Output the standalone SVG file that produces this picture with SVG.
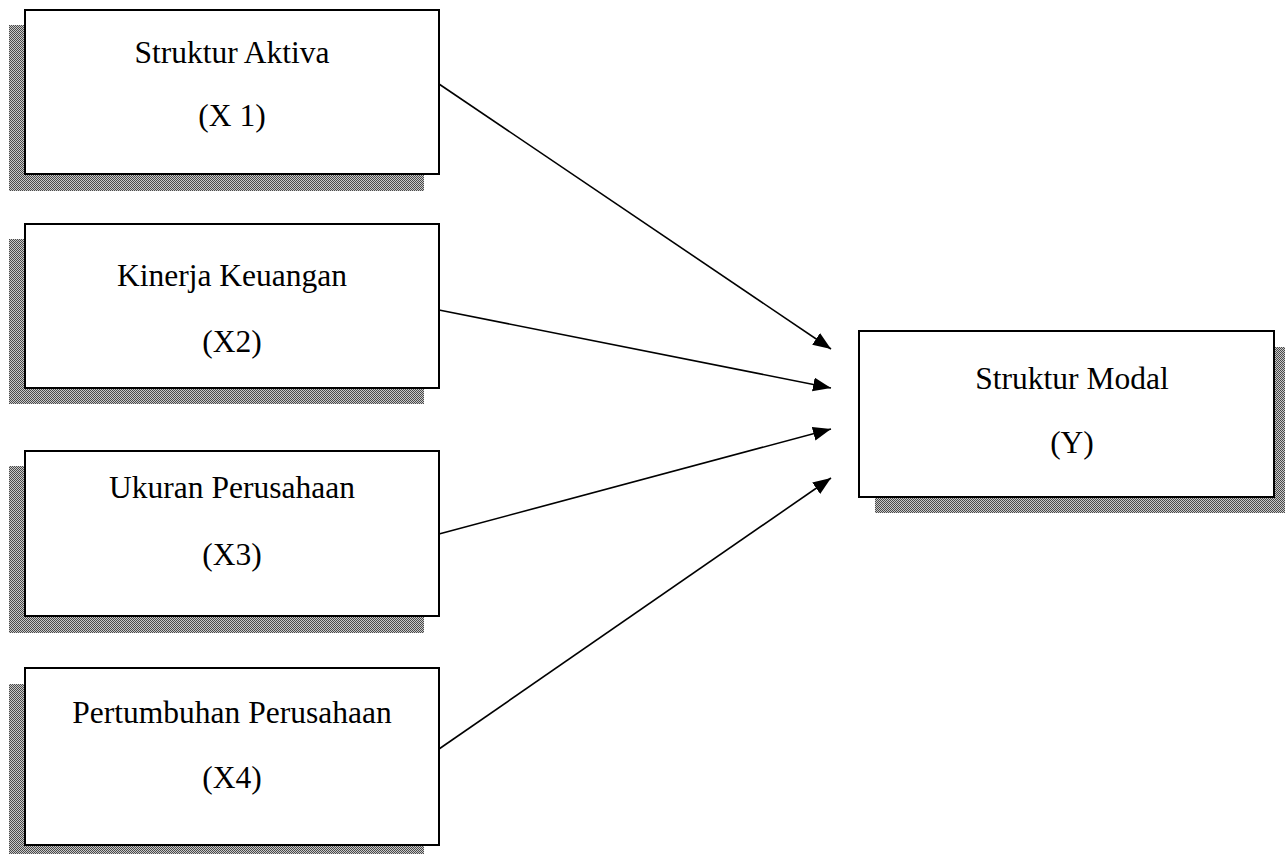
<svg xmlns="http://www.w3.org/2000/svg" width="1285" height="854" viewBox="0 0 1285 854">
<defs>
<pattern id="dots" x="0" y="0" width="2" height="2" patternUnits="userSpaceOnUse">
<rect width="2" height="2" fill="#c8c8c8"/>
<rect x="0" y="0" width="1" height="1" fill="#4a4a4a"/>
<rect x="1" y="1" width="1" height="1" fill="#4a4a4a"/>
</pattern>
<marker id="arr" markerUnits="userSpaceOnUse" markerWidth="20" markerHeight="16" refX="18" refY="7" orient="auto">
<path d="M0,0 L18,7 L0,14 z" fill="#000"/>
</marker>
<style>
.box{fill:#fff;stroke:#000;stroke-width:2}
.sh{fill:url(#dots)}
.t{font-family:"Liberation Serif","Times New Roman",serif;font-size:31.5px;fill:#000;text-anchor:middle}
.c{stroke:#000;stroke-width:1.6;fill:none;marker-end:url(#arr)}
</style>
</defs>
<rect width="1285" height="854" fill="#fff"/>
<g id="x1">
<rect class="sh" x="9" y="25" width="415" height="166"/>
<rect class="box" x="25" y="10" width="414" height="164"/>
<text class="t" x="232" y="63">Struktur Aktiva</text>
<text class="t" x="232" y="126">(X 1)</text>
</g>
<g id="x2">
<rect class="sh" x="9" y="239" width="415" height="165"/>
<rect class="box" x="25" y="224" width="414" height="164"/>
<text class="t" x="232" y="286">Kinerja Keuangan</text>
<text class="t" x="232" y="352">(X2)</text>
</g>
<g id="x3">
<rect class="sh" x="9" y="466" width="415" height="167"/>
<rect class="box" x="25" y="451" width="414" height="165"/>
<text class="t" x="232" y="498">Ukuran Perusahaan</text>
<text class="t" x="232" y="565">(X3)</text>
</g>
<g id="x4">
<rect class="sh" x="9" y="684" width="415" height="170"/>
<rect class="box" x="25" y="668" width="414" height="177"/>
<text class="t" x="232" y="723">Pertumbuhan Perusahaan</text>
<text class="t" x="232" y="788">(X4)</text>
</g>
<g id="y">
<rect class="sh" x="875" y="347" width="410" height="166"/>
<rect class="box" x="859" y="331" width="415" height="166"/>
<text class="t" x="1072" y="389">Struktur Modal</text>
<text class="t" x="1072" y="453">(Y)</text>
</g>
<g id="connectors">
<line class="c" x1="439" y1="84" x2="831" y2="349"/>
<line class="c" x1="439" y1="310" x2="831" y2="388"/>
<line class="c" x1="439" y1="534" x2="831" y2="429"/>
<line class="c" x1="439" y1="749" x2="831" y2="478"/>
</g>
</svg>
